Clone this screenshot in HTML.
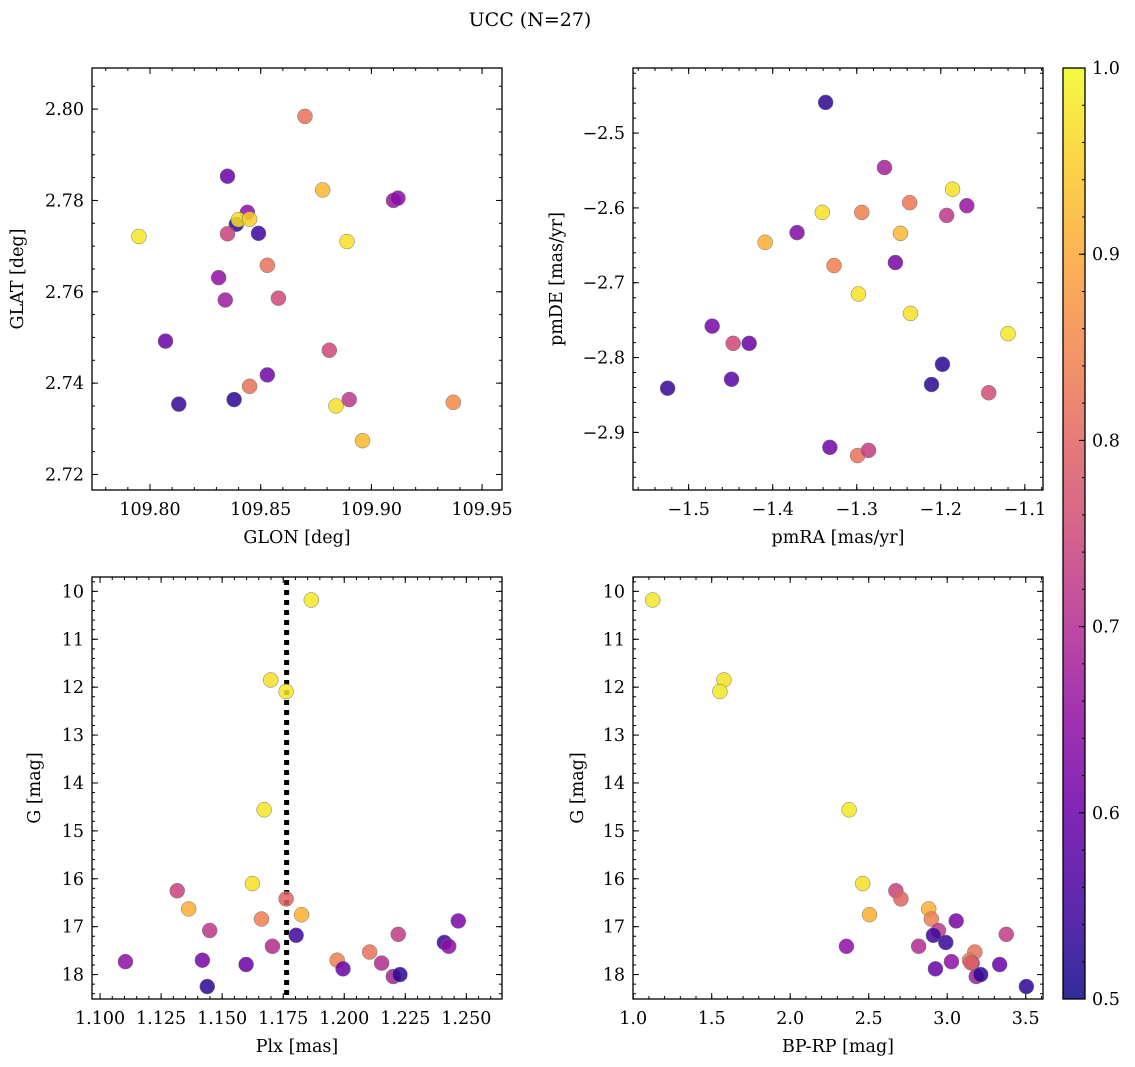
<!DOCTYPE html>
<html><head><meta charset="utf-8"><style>
html,body{margin:0;padding:0;background:#fff;}
svg{display:block;font-family:"DejaVu Serif","Liberation Serif",serif;}
</style></head><body>
<svg id="fig" width="1135" height="1067" viewBox="0 0 1135 1067">
<text x="530" y="26" font-size="19" text-anchor="middle">UCC (N=27)</text>
</svg>
<script>
// Panel 1: GLON / GLAT
const glon=[109.870,109.835,109.878,109.910,109.912,109.844,109.839,109.840,109.845,109.835,109.849,109.795,109.889,109.853,109.831,109.834,109.858,109.807,109.881,109.853,109.845,109.813,109.838,109.884,109.890,109.937,109.896];
const glat=[2.7984,2.7853,2.7823,2.7800,2.7805,2.7774,2.7748,2.7758,2.7759,2.7727,2.7728,2.7721,2.7710,2.7658,2.7631,2.7582,2.7586,2.7492,2.7472,2.7418,2.7393,2.7354,2.7364,2.7350,2.7364,2.7358,2.7274];
const prob1=[0.82,0.60,0.92,0.66,0.64,0.65,0.53,0.97,0.95,0.74,0.55,0.98,0.97,0.82,0.65,0.67,0.75,0.60,0.75,0.61,0.82,0.54,0.53,0.97,0.72,0.86,0.92];
// Panel 2: pmRA / pmDE
const pmra=[-1.337,-1.267,-1.186,-1.237,-1.169,-1.341,-1.294,-1.193,-1.371,-1.248,-1.409,-1.254,-1.327,-1.298,-1.236,-1.120,-1.472,-1.447,-1.428,-1.198,-1.449,-1.211,-1.525,-1.143,-1.332,-1.299,-1.286];
const pmde=[-2.459,-2.546,-2.575,-2.593,-2.597,-2.606,-2.606,-2.610,-2.633,-2.634,-2.646,-2.673,-2.677,-2.715,-2.741,-2.768,-2.758,-2.781,-2.781,-2.809,-2.829,-2.836,-2.841,-2.847,-2.920,-2.931,-2.924];
const prob2=[0.53,0.68,0.97,0.83,0.66,0.97,0.84,0.72,0.63,0.92,0.91,0.62,0.84,0.97,0.97,0.98,0.62,0.75,0.60,0.53,0.58,0.53,0.54,0.76,0.61,0.82,0.73];
// Panel 3: Plx / G
const plx=[1.1865,1.1699,1.1762,1.1672,1.1624,1.1316,1.1762,1.1363,1.1825,1.1661,1.1449,1.2467,1.1803,1.2221,1.1706,1.2410,1.2428,1.2104,1.1104,1.1419,1.1971,1.2153,1.1598,1.1995,1.2201,1.2228,1.1439];
const gmag3=[10.18,11.85,12.09,14.56,16.10,16.25,16.42,16.63,16.75,16.84,17.08,16.88,17.18,17.16,17.41,17.33,17.41,17.53,17.73,17.70,17.70,17.76,17.79,17.88,18.04,18.00,18.25];
const prob3=[0.98,0.97,0.98,0.98,0.97,0.74,0.80,0.91,0.91,0.84,0.72,0.62,0.55,0.73,0.70,0.54,0.65,0.82,0.65,0.62,0.84,0.70,0.60,0.60,0.68,0.53,0.53];
const plxMean=[1.1764];
// Panel 4: BP-RP / G
const bprp=[1.124,1.578,1.552,2.375,2.462,2.673,2.705,2.882,2.505,2.899,2.944,3.057,2.912,3.376,2.818,2.991,2.358,3.176,3.334,3.027,3.142,3.159,2.925,3.185,3.213,3.504,3.150];
const gmag4=[10.18,11.85,12.09,14.56,16.10,16.25,16.42,16.63,16.75,16.84,17.08,16.88,17.18,17.16,17.41,17.33,17.41,17.53,17.79,17.73,17.70,17.76,17.88,18.04,18.00,18.25,17.75];
const prob4=[0.98,0.97,0.98,0.98,0.97,0.74,0.80,0.91,0.91,0.84,0.72,0.62,0.55,0.73,0.70,0.54,0.65,0.82,0.60,0.65,0.84,0.70,0.60,0.68,0.53,0.53,0.80];
// tick labels
const xt1=[109.80,109.85,109.90,109.95], yt1=[2.72,2.74,2.76,2.78,2.80];
const xt2=[-1.5,-1.4,-1.3,-1.2,-1.1], yt2=[-2.9,-2.8,-2.7,-2.6,-2.5];
const xt3=[1.100,1.125,1.150,1.175,1.200,1.225,1.250], ytG=[10,11,12,13,14,15,16,17,18];
const xt4=[1.0,1.5,2.0,2.5,3.0,3.5], cbt=[0.5,0.6,0.7,0.8,0.9,1.0];

const NS='http://www.w3.org/2000/svg';
const fig=document.getElementById('fig');
function mk(tag,attrs,parent){const e=document.createElementNS(NS,tag);for(const k in attrs)e.setAttribute(k,attrs[k]);(parent||fig).appendChild(e);return e;}
const stops=['#0d0887','#41049d','#6a00a8','#8f0da4','#b12a90','#cc4778','#e16462','#f2844b','#fca636','#fcce25','#f0f921'];
function hex(h){return [1,3,5].map(i=>parseInt(h.substr(i,2),16));}
function plasma(t){t=Math.max(0,Math.min(1,t));const f=t*10,i=Math.min(9,Math.floor(f)),u=f-i;const a=hex(stops[i]),b=hex(stops[i+1]);return 'rgb('+a.map((v,k)=>Math.round(v+(b[k]-v)*u)).join(',')+')';}
function cmap(p){return plasma((p-0.5)/0.5);}
function fmt(v,d){let s=v.toFixed(d);return s.replace('-','\u2212');}
const FS=17.5;

function panel(o){
  const g=mk('g',{});
  
  
  const sx=v=>o.L+(v-o.xmin)/(o.xmax-o.xmin)*(o.R-o.L);
  const sy=v=>o.T+(v-o.ytop)/(o.ybot-o.ytop)*(o.B-o.T);
  const tg=mk('g',{stroke:'#000','stroke-width':1},g);
  function ticksX(step,len){const s0=Math.ceil(o.xmin/step-1e-6);for(let k=s0;k*step<=o.xmax+1e-9;k++){const x=sx(k*step);mk('line',{x1:x,x2:x,y1:o.B,y2:o.B-len},tg);mk('line',{x1:x,x2:x,y1:o.T,y2:o.T+len},tg);}}
  function ticksY(step,len){const lo=Math.min(o.ytop,o.ybot),hi=Math.max(o.ytop,o.ybot);const s0=Math.ceil(lo/step-1e-6);for(let k=s0;k*step<=hi+1e-9;k++){const y=sy(k*step);mk('line',{x1:o.L,x2:o.L+len,y1:y,y2:y},tg);mk('line',{x1:o.R,x2:o.R-len,y1:y,y2:y},tg);}}
  ticksX(o.xminor,3);ticksY(o.yminor,3);
  o.xt.forEach(v=>{const x=sx(v);mk('line',{x1:x,x2:x,y1:o.B,y2:o.B-6},tg);mk('line',{x1:x,x2:x,y1:o.T,y2:o.T+6},tg);
    const t=mk('text',{x:x,y:o.B+25,'font-size':FS,'text-anchor':'middle'},g);t.textContent=fmt(v,o.xd);
    });
  o.yt.forEach(v=>{const y=sy(v);mk('line',{x1:o.L,x2:o.L+6,y1:y,y2:y},tg);mk('line',{x1:o.R,x2:o.R-6,y1:y,y2:y},tg);
    const t=mk('text',{x:o.L-8,y:y+6,'font-size':FS,'text-anchor':'end'},g);t.textContent=fmt(v,o.yd);
    });
  if(o.vline){const x=sx(o.vline[0]);const l=mk('line',{x1:x,x2:x,y1:o.T+3,y2:o.B,stroke:'#000','stroke-width':5,'stroke-dasharray':'5,5'},g);
    }
  o.xs.forEach((v,i)=>{const c=mk('circle',{cx:sx(v),cy:sy(o.ys[i]),r:7.5,fill:cmap(o.ps[i]),'fill-opacity':0.85,stroke:'#777','stroke-width':0.5},g);
    });
  mk('rect',{x:o.L,y:o.T,width:o.R-o.L,height:o.B-o.T,fill:'none',stroke:'#000','stroke-width':1.3},g);
  const xl=mk('text',{x:(o.L+o.R)/2,y:o.B+53,'font-size':FS,'text-anchor':'middle'},g);xl.textContent=o.xlabel;
  
  const yx=o.ylx,yy=(o.T+o.B)/2;const yl=mk('text',{x:yx,y:yy,'font-size':FS,'text-anchor':'middle',transform:'rotate(-90 '+yx+' '+yy+')'},g);yl.textContent=o.ylabel;
  
}
panel({name:'glon-glat-panel',L:92,R:502,T:68,B:490,xmin:109.7738,xmax:109.959,ytop:2.809,ybot:2.7166,xt:xt1,yt:yt1,xd:2,yd:2,xminor:0.01,yminor:0.005,xs:glon,ys:glat,ps:prob1,xlabel:'GLON [deg]',ylabel:'GLAT [deg]',ylx:23});
panel({name:'pm-panel',L:633,R:1043,T:68,B:490,xmin:-1.5662,xmax:-1.0784,ytop:-2.413,ybot:-2.977,xt:xt2,yt:yt2,xd:1,yd:1,xminor:0.02,yminor:0.02,xs:pmra,ys:pmde,ps:prob2,xlabel:'pmRA [mas/yr]',ylabel:'pmDE [mas/yr]',ylx:562});
panel({name:'plx-g-panel',L:92,R:502,T:577,B:999,xmin:1.0967,xmax:1.2646,ytop:9.70,ybot:18.51,xt:xt3,yt:ytG,xd:3,yd:0,xminor:0.005,yminor:0.2,xs:plx,ys:gmag3,ps:prob3,xlabel:'Plx [mas]',ylabel:'G [mag]',ylx:40,vline:plxMean});
panel({name:'cmd-panel',L:633,R:1043,T:577,B:999,xmin:0.9987,xmax:3.61,ytop:9.70,ybot:18.51,xt:xt4,yt:ytG,xd:1,yd:0,xminor:0.1,yminor:0.2,xs:bprp,ys:gmag4,ps:prob4,xlabel:'BP-RP [mag]',ylabel:'G [mag]',ylx:583});
// colorbar
const cb=mk('g',{});


const defs=mk('defs',{},cb);
const lg=mk('linearGradient',{id:'cbg',x1:0,y1:1,x2:0,y2:0},defs);
for(let i=0;i<=10;i++)mk('stop',{offset:i/10,'stop-color':stops[i],'stop-opacity':0.85},lg);
const CT=68,CB=999,CL=1063,CR=1085;
mk('rect',{x:CL,y:CT,width:CR-CL,height:CB-CT,fill:'url(#cbg)'},cb);
const cy=v=>CB-(v-0.5)/0.5*(CB-CT);
for(let k=25;k<=50;k++){const y=cy(k*0.02);mk('line',{x1:CR,x2:CR-3,y1:y,y2:y,stroke:'#000'},cb);}
cbt.forEach(v=>{const y=cy(v);mk('line',{x1:CR,x2:CR-6,y1:y,y2:y,stroke:'#000'},cb);
  const t=mk('text',{x:CR+7,y:y+6,'font-size':FS},cb);t.textContent=v.toFixed(1);
  });
mk('rect',{x:CL,y:CT,width:CR-CL,height:CB-CT,fill:'none',stroke:'#000','stroke-width':1.3},cb);
</script>
</body></html>
